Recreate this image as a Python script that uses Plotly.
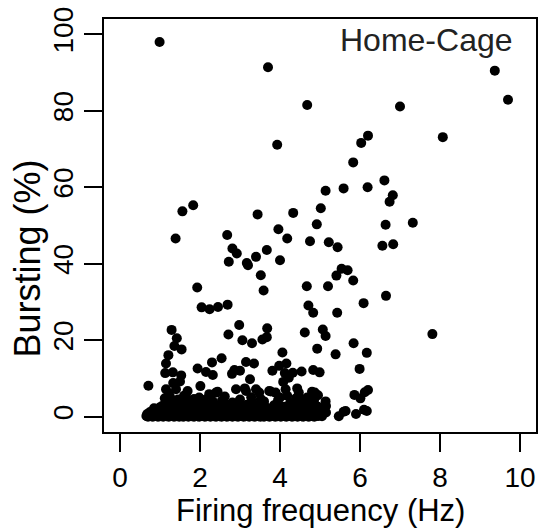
import plotly.graph_objects as go

# Scattered cells (firing frequency in Hz, bursting in %)
freq_scatter = [0.99, 3.70, 9.37, 9.70, 4.68, 7.00, 6.20, 6.03, 8.07, 3.93,
                5.83, 5.14, 5.59, 6.19, 6.61, 6.82, 6.74, 1.56, 1.83, 3.44,
                4.33, 5.02, 7.32, 6.64, 4.92, 3.96, 1.39, 2.68, 4.18, 4.75,
                5.22, 5.44, 6.56, 6.83, 2.81, 2.92, 3.67, 3.40, 2.72, 3.17,
                3.20, 4.00, 5.54, 5.69, 5.41, 3.52, 5.83, 4.67, 5.20, 1.93,
                3.59, 6.65, 6.09, 2.69, 4.71, 2.45, 2.04, 2.24, 4.83, 5.43,
                2.98, 3.68, 5.07, 1.29, 4.62, 7.81, 2.71, 5.14, 3.67, 1.42,
                3.56, 3.06, 3.30, 5.84, 1.36, 4.93, 1.54, 4.06, 6.17, 5.39,
                1.21, 2.54, 2.30, 3.15, 1.15, 3.35, 4.16, 3.98, 1.94, 5.99,
                2.86, 4.83, 3.00, 3.81, 4.54, 2.15, 1.32, 4.99, 4.32, 1.13,
                4.12, 2.80, 2.32, 1.53, 4.22, 3.25, 4.08, 0.71, 2.01]
burst_scatter = [98.0, 91.4, 90.5, 82.9, 81.5, 81.1, 73.5, 71.6, 73.1, 71.1,
                 66.5, 59.1, 59.7, 60.0, 61.8, 57.9, 56.2, 53.7, 55.3, 52.9,
                 53.3, 54.5, 50.7, 50.2, 50.3, 49.0, 46.6, 47.5, 46.6, 45.9,
                 45.6, 44.3, 44.7, 45.1, 44.0, 42.7, 43.6, 41.8, 40.5, 40.2,
                 39.6, 40.9, 38.7, 38.3, 36.9, 37.0, 35.6, 34.1, 34.1, 33.8,
                 33.0, 31.6, 29.7, 29.3, 29.1, 28.7, 28.6, 28.1, 27.2, 27.2,
                 24.0, 23.1, 22.8, 22.7, 22.0, 21.6, 21.5, 21.1, 20.8, 20.5,
                 20.2, 20.0, 19.2, 19.2, 18.5, 17.8, 17.6, 16.8, 16.7, 16.3,
                 16.1, 15.3, 14.2, 14.3, 13.9, 13.9, 13.9, 13.3, 12.6, 12.5,
                 12.2, 12.2, 12.0, 12.0, 11.8, 11.7, 11.6, 11.6, 11.5, 11.4,
                 11.4, 11.2, 10.9, 10.8, 10.2, 9.8, 9.1, 8.1, 8.0]

# Low-bursting cells (2-9 %)
freq_low = [1.15, 1.40, 1.69, 2.23, 2.44, 2.90, 3.12, 3.48, 3.77, 3.89,
            4.43, 4.47, 4.80, 4.87, 4.14, 3.73, 3.40, 5.86, 6.01, 6.12,
            6.20, 5.14, 1.20, 0.99, 1.98, 1.28, 1.73, 2.15, 2.40, 2.81,
            3.15, 3.31, 5.15, 6.10, 1.25, 1.33, 1.45, 1.50, 1.22, 1.38,
            1.60, 4.55, 4.62, 4.68, 4.75, 4.85, 4.90, 4.58, 2.55, 2.70,
            3.00, 3.20, 3.60, 3.85, 4.00, 4.25, 4.35, 2.00, 1.85,
            1.12, 1.55, 1.65, 2.10, 2.32, 2.62, 2.98, 3.28, 3.52, 3.95,
            4.18, 4.40, 4.72, 4.95]
burst_low = [7.2, 7.2, 6.7, 5.9, 6.5, 7.2, 7.4, 6.3, 6.6, 6.3,
             7.4, 6.3, 6.5, 6.3, 7.2, 6.7, 7.2, 5.7, 4.8, 6.4,
             7.0, 4.0, 3.7, 2.4, 5.0, 3.7, 3.7, 3.3, 6.3, 3.7,
             6.7, 3.7, 2.8, 1.8, 5.2, 8.8, 4.5, 9.2, 6.0, 2.8,
             5.5, 4.5, 3.2, 5.0, 2.6, 4.2, 2.0, 1.8, 4.2, 2.8,
             4.5, 2.6, 4.0, 3.0, 5.0, 3.5, 2.4, 2.5, 4.6,
             4.8, 4.2, 5.2, 4.4, 4.0, 5.3, 3.9, 5.1, 4.6, 4.3,
             5.5, 4.8, 3.8, 5.6]

# Cells around 2-3 % bursting
freq_two = [0.85, 1.05, 1.18, 1.35, 1.47, 1.58, 1.79, 1.92, 2.05, 2.25,
            2.38, 2.52, 2.65, 2.78, 2.92, 3.06, 3.18, 3.36, 3.50, 3.64,
            3.78, 3.92, 4.10, 4.28, 4.42, 4.52, 4.66, 4.79, 4.95]
burst_two = [2.2, 2.8, 2.0, 3.1, 2.4, 2.9, 2.1, 3.0, 2.5, 2.2,
             2.9, 2.3, 3.2, 2.0, 2.7, 2.4, 3.1, 2.2, 2.8, 2.5,
             2.1, 3.0, 2.6, 2.2, 3.1, 2.4, 2.9, 2.0, 2.6]

# Cells around 1-2 % bursting
freq_one = [0.75, 0.88, 1.02, 1.15, 1.28, 1.42, 1.55, 1.68, 1.82, 1.95,
            2.08, 2.22, 2.35, 2.48, 2.62, 2.75, 2.88, 3.02, 3.15, 3.28,
            3.42, 3.55, 3.68, 3.82, 3.95, 4.08, 4.22, 4.35, 4.48, 4.62,
            4.75, 4.88, 5.15, 5.64, 6.17, 5.59, 5.10]
burst_one = [1.2, 1.6, 1.0, 1.8, 1.4, 1.1, 1.7, 1.3, 1.0, 1.6,
             1.2, 1.8, 1.1, 1.5, 1.3, 1.7, 1.0, 1.4, 1.8, 1.2,
             1.6, 1.1, 1.5, 1.3, 1.7, 1.0, 1.4, 1.8, 1.2, 1.6,
             1.1, 1.5, 1.1, 1.5, 1.5, 1.3, 1.8]

# Cells just under 1 % bursting
freq_half = [0.68, 0.80, 0.93, 1.06, 1.19, 1.32, 1.46, 1.60, 1.73, 1.87,
             2.00, 2.14, 2.28, 2.41, 2.55, 2.69, 2.83, 2.97, 3.10, 3.24,
             3.38, 3.52, 3.66, 3.80, 3.93, 4.06, 4.20, 4.33, 4.46, 4.60,
             4.73, 4.86, 4.98]
burst_half = [0.7, 0.9, 0.6, 0.8, 1.0, 0.7, 0.9, 0.6, 0.8, 1.0,
              0.7, 0.6, 0.9, 0.8, 0.7, 1.0, 0.6, 0.8, 0.9, 0.7,
              0.6, 1.0, 0.8, 0.7, 0.9, 0.6, 0.8, 1.0, 0.7, 0.9,
              0.6, 0.8, 0.7]

# Near-zero bursting band
freq_zero = [0.66, 0.70, 0.74, 0.78, 0.82, 0.86, 0.90, 0.95, 1.00, 1.04,
             1.08, 1.12, 1.17, 1.22, 1.26, 1.30, 1.35, 1.40, 1.44, 1.48,
             1.53, 1.58, 1.62, 1.66, 1.71, 1.76, 1.80, 1.85, 1.90, 1.94,
             1.98, 2.03, 2.08, 2.12, 2.17, 2.22, 2.26, 2.30, 2.35, 2.40,
             2.44, 2.49, 2.54, 2.58, 2.62, 2.67, 2.72, 2.76, 2.81, 2.86,
             2.90, 2.95, 3.00, 3.04, 3.09, 3.14, 3.18, 3.23, 3.28, 3.32,
             3.37, 3.42, 3.46, 3.51, 3.56, 3.60, 3.65, 3.70, 3.74, 3.79,
             3.84, 3.88, 3.93, 3.98, 4.02, 4.07, 4.12, 4.16, 4.21, 4.26,
             4.30, 4.35, 4.40, 4.44, 4.49, 4.54, 4.58, 4.63, 4.68, 4.72,
             4.77, 4.82, 4.86, 4.91, 4.96, 5.05, 5.47, 5.90]
burst_zero = [0.2, 0.0, 0.3, 0.1, 0.0, 0.2, 0.4, 0.0, 0.1, 0.3,
              0.0, 0.2, 0.1, 0.0, 0.4, 0.2, 0.0, 0.1, 0.3, 0.0,
              0.2, 0.0, 0.1, 0.3, 0.0, 0.2, 0.1, 0.0, 0.3, 0.1,
              0.0, 0.2, 0.4, 0.0, 0.1, 0.3, 0.0, 0.2, 0.1, 0.0,
              0.3, 0.1, 0.0, 0.2, 0.4, 0.0, 0.1, 0.3, 0.0, 0.2,
              0.1, 0.0, 0.3, 0.2, 0.0, 0.1, 0.4, 0.0, 0.2, 0.1,
              0.0, 0.3, 0.1, 0.0, 0.2, 0.0, 0.4, 0.1, 0.0, 0.3,
              0.2, 0.0, 0.1, 0.3, 0.0, 0.2, 0.1, 0.0, 0.3, 0.2,
              0.0, 0.1, 0.4, 0.0, 0.2, 0.1, 0.0, 0.3, 0.1, 0.0,
              0.2, 0.1, 0.0, 0.3, 0.2, 0.1, 0.1, 0.7]

x_ticks = [0, 2, 4, 6, 8, 10]
y_ticks = [0, 20, 40, 60, 80, 100]

freq_all = freq_scatter + freq_low + freq_two + freq_one + freq_half + freq_zero
burst_all = burst_scatter + burst_low + burst_two + burst_one + burst_half + burst_zero

FONT = "Liberation Sans"

fig = go.Figure()
fig.add_trace(go.Scatter(
    x=freq_all, y=burst_all, mode="markers",
    marker=dict(color="black", size=10, line=dict(width=0)),
    hoverinfo="x+y", showlegend=False,
))

axis_common = dict(
    showgrid=False, zeroline=False, showline=True, linewidth=2,
    linecolor="black", mirror=True, ticks="outside", ticklen=18,
    tickwidth=2, tickcolor="black",
    tickfont=dict(family=FONT, size=28, color="black"),
)
fig.update_xaxes(range=[-0.4, 10.4], tickvals=x_ticks,
                 ticktext=[str(v) for v in x_ticks], ticklabelstandoff=1,
                 **axis_common)
fig.update_yaxes(range=[-4, 104], tickvals=y_ticks,
                 ticktext=[str(v) for v in y_ticks], tickangle=-90,
                 **axis_common)

fig.update_layout(
    width=542, height=529,
    margin=dict(l=104, r=4, t=19, b=97),
    paper_bgcolor="white", plot_bgcolor="white",
    font=dict(family=FONT, color="black"),
    annotations=[
        dict(text="Firing frequency (Hz)", xref="paper", yref="paper",
             x=0.5, y=-0.189, xanchor="center", yanchor="middle",
             showarrow=False, font=dict(family=FONT, size=31, color="black")),
        dict(text="Bursting (%)", xref="paper", yref="paper",
             x=-0.176, y=0.42, xanchor="center", yanchor="middle",
             textangle=-90, showarrow=False,
             font=dict(family=FONT, size=36, color="black")),
        dict(text="Home-Cage", xref="paper", yref="paper",
             x=0.952, y=0.95, xanchor="right", yanchor="middle",
             showarrow=False, font=dict(family=FONT, size=32, color="#222222")),
    ],
)

fig.write_html(
    "out.html",
    config={"displayModeBar": False},
    post_script="document.body.style.margin='0';"
                "document.body.style.padding='0';"
                "document.body.style.overflow='hidden';"
                "document.documentElement.style.overflow='hidden';",
)
